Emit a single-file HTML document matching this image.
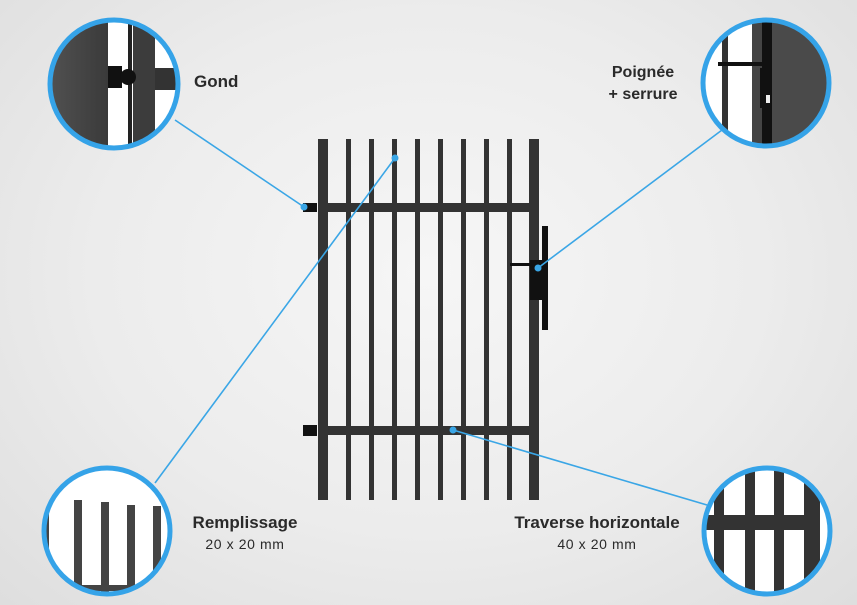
<!DOCTYPE html>
<html><head><meta charset="utf-8"><style>
html,body{margin:0;padding:0;width:857px;height:605px;overflow:hidden}
body{background:radial-gradient(ellipse at 50% 45%,#f6f6f6 0%,#ececec 55%,#dedede 100%)}
svg{position:absolute;left:0;top:0}
text{font-family:"Liberation Sans",Arial,sans-serif;fill:#2a2a2a}
</style></head><body>
<svg width="857" height="605" viewBox="0 0 857 605">
<defs>
<clipPath id="c1"><circle cx="114" cy="84" r="64"/></clipPath>
<clipPath id="c2"><circle cx="766" cy="83" r="63"/></clipPath>
<clipPath id="c3"><circle cx="107" cy="531" r="63"/></clipPath>
<clipPath id="c4"><circle cx="767" cy="531" r="63"/></clipPath>
<linearGradient id="dk" x1="0" x2="1"><stop offset="0" stop-color="#555"/><stop offset="1" stop-color="#3a3a3a"/></linearGradient>
</defs>
<g fill="#333">
<rect x="318" y="139" width="10" height="361"/>
<rect x="529" y="139" width="10" height="361"/>
<rect x="346" y="139" width="5" height="361"/>
<rect x="369" y="139" width="5" height="361"/>
<rect x="392" y="139" width="5" height="361"/>
<rect x="415" y="139" width="5" height="361"/>
<rect x="438" y="139" width="5" height="361"/>
<rect x="461" y="139" width="5" height="361"/>
<rect x="484" y="139" width="5" height="361"/>
<rect x="507" y="139" width="5" height="361"/>
<rect x="328" y="203" width="201" height="9"/>
<rect x="328" y="426" width="201" height="9"/>
</g>
<g fill="#111">
<rect x="303" y="203" width="14" height="9"/>
<rect x="303" y="425" width="14" height="11"/>
<rect x="542" y="226" width="6" height="104"/>
<rect x="530" y="260" width="12" height="40"/>
<rect x="510" y="263" width="22" height="3"/>
</g>
<g stroke="#3aa6e6" stroke-width="1.6" fill="none">
<line x1="175" y1="120" x2="304" y2="207"/>
<line x1="722" y1="130" x2="538" y2="268"/>
<line x1="155" y1="483" x2="395" y2="158"/>
<line x1="453" y1="430" x2="707" y2="505"/>
</g>
<g fill="#3aa6e6">
<circle cx="304" cy="207" r="3.5"/><circle cx="538" cy="268" r="3.5"/>
<circle cx="395" cy="158" r="3.5"/><circle cx="453" cy="430" r="3.5"/>
</g>
<g clip-path="url(#c1)">
<rect x="40" y="10" width="150" height="150" fill="#fff"/>
<rect x="40" y="10" width="68" height="150" fill="url(#dk)"/>
<rect x="128" y="10" width="4" height="150" fill="#222"/>
<rect x="133" y="10" width="22" height="150" fill="#3c3c3c"/>
<rect x="155" y="68" width="30" height="22" fill="#333"/>
<rect x="108" y="66" width="14" height="22" fill="#111"/>
<circle cx="128" cy="77" r="8" fill="#111"/>
</g>
<circle cx="114" cy="84" r="64" fill="none" stroke="#35a3e8" stroke-width="5"/>
<g clip-path="url(#c2)">
<rect x="690" y="10" width="150" height="150" fill="#fff"/>
<rect x="722" y="10" width="6" height="150" fill="#333"/>
<rect x="752" y="10" width="10" height="150" fill="#444"/>
<rect x="762" y="10" width="10" height="150" fill="#111"/>
<rect x="772" y="10" width="60" height="150" fill="#4a4a4a"/>
<rect x="718" y="62" width="50" height="4" fill="#111"/>
<rect x="760" y="68" width="12" height="40" fill="#111"/>
<rect x="766" y="95" width="4" height="8" fill="#eee"/>
</g>
<circle cx="766" cy="83" r="63" fill="none" stroke="#35a3e8" stroke-width="5"/>
<g clip-path="url(#c3)">
<rect x="35" y="455" width="150" height="150" fill="#fff"/>
<rect x="35" y="455" width="14" height="150" fill="#444"/>
<rect x="74" y="500" width="8" height="110" fill="#444"/>
<rect x="101" y="502" width="8" height="110" fill="#444"/>
<rect x="127" y="505" width="8" height="110" fill="#444"/>
<rect x="153" y="506" width="8" height="110" fill="#444"/>
<rect x="80" y="585" width="80" height="6" fill="#444"/>
</g>
<circle cx="107" cy="531" r="63" fill="none" stroke="#35a3e8" stroke-width="5"/>
<g clip-path="url(#c4)">
<rect x="695" y="455" width="150" height="150" fill="#fff"/>
<rect x="695" y="515" width="115" height="15" fill="#333"/>
<rect x="714" y="455" width="10" height="150" fill="#333"/>
<rect x="745" y="455" width="10" height="150" fill="#333"/>
<rect x="774" y="455" width="10" height="150" fill="#333"/>
<rect x="804" y="480" width="16" height="130" fill="#333"/>
</g>
<circle cx="767" cy="531" r="63" fill="none" stroke="#35a3e8" stroke-width="5"/>
<text x="194" y="87" font-size="17" font-weight="bold">Gond</text>
<text x="643" y="77" font-size="16" font-weight="bold" text-anchor="middle">Poignée</text>
<text x="643" y="99" font-size="16" font-weight="bold" text-anchor="middle">+ serrure</text>
<text x="245" y="528" font-size="17" font-weight="bold" text-anchor="middle">Remplissage</text>
<text x="245" y="549" font-size="14" letter-spacing="0.6" text-anchor="middle">20 x 20 mm</text>
<text x="597" y="528" font-size="17" font-weight="bold" text-anchor="middle">Traverse horizontale</text>
<text x="597" y="549" font-size="14" letter-spacing="0.6" text-anchor="middle">40 x 20 mm</text>
</svg>
</body></html>
